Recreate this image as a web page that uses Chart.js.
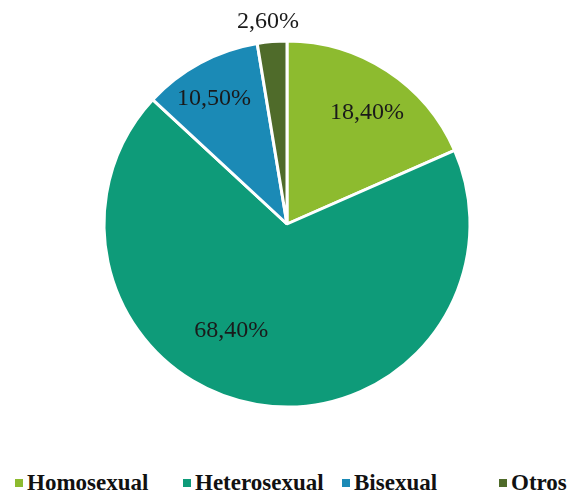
<!DOCTYPE html>
<html>
<head>
<meta charset="utf-8">
<script src="https://cdn.jsdelivr.net/npm/chart.js@4/dist/chart.umd.min.js"></script>
<style>
html,body{margin:0;padding:0;background:#fff;}
#wrap{width:574px;height:460px;position:relative;}
#legend{position:absolute;left:0;top:470px;width:574px;height:26px;font-family:"Liberation Serif","Times New Roman",serif;font-weight:bold;font-size:23px;color:#111;}
#legend .item{position:absolute;top:0;white-space:nowrap;line-height:26px;}
#legend .box{display:inline-block;width:8px;height:8px;margin-right:4px;vertical-align:middle;position:relative;top:-2px;}
</style>
</head>
<body>
<div id="wrap"><canvas id="c"></canvas></div>
<div id="legend"></div>
<script>
const categories = ['Homosexual', 'Heterosexual', 'Bisexual', 'Otros'];
const values = [18.4, 68.4, 10.5, 2.6];
const valueLabels = ['18,40%', '68,40%', '10,50%', '2,60%'];
const colors = ['#8DBB2F', '#0E9B79', '#1B8AB6', '#4F6B2A'];

// label placement: fraction of outer radius, angle shift (degrees) from slice middle
const labelPlacement = [
  {r: 0.75, shift: 2.5},
  {r: 0.66, shift: 18},
  {r: 0.79, shift: -2},
  {r: 1.11, shift: -0.7}
];
const legendLeft = [15, 183, 342, 499];

const pieLabels = {
  id: 'pieLabels',
  afterDatasetsDraw(chart) {
    const ctx = chart.ctx;
    const meta = chart.getDatasetMeta(0);
    ctx.save();
    ctx.font = '24px "Liberation Serif", "Times New Roman", serif';
    ctx.fillStyle = '#1a1a1a';
    ctx.textAlign = 'center';
    ctx.textBaseline = 'middle';
    meta.data.forEach((arc, i) => {
      const p = arc.getProps(['x','y','startAngle','endAngle','outerRadius'], true);
      const mid = (p.startAngle + p.endAngle) / 2 + labelPlacement[i].shift * Math.PI / 180;
      const r = p.outerRadius * labelPlacement[i].r;
      ctx.fillText(valueLabels[i], p.x + Math.cos(mid) * r, p.y + Math.sin(mid) * r);
    });
    ctx.restore();
  }
};

const chart = new Chart(document.getElementById('c'), {
  type: 'pie',
  data: {
    labels: categories,
    datasets: [{
      data: values,
      backgroundColor: colors,
      borderColor: '#ffffff',
      borderWidth: 3,
      radius: 183
    }]
  },
  options: {
    responsive: true,
    maintainAspectRatio: false,
    animation: false,
    layout: {padding: {top: 0, bottom: 12}},
    plugins: {
      tooltip: {enabled: false},
      legend: {display: false}
    }
  },
  plugins: [pieLabels]
});

const legendEl = document.getElementById('legend');
chart.legend.legendItems.forEach((it, i) => {
  const d = document.createElement('div');
  d.className = 'item';
  d.style.left = legendLeft[i] + 'px';
  const b = document.createElement('span');
  b.className = 'box';
  b.style.background = it.fillStyle;
  d.appendChild(b);
  d.appendChild(document.createTextNode(it.text));
  legendEl.appendChild(d);
});
</script>
</body>
</html>
